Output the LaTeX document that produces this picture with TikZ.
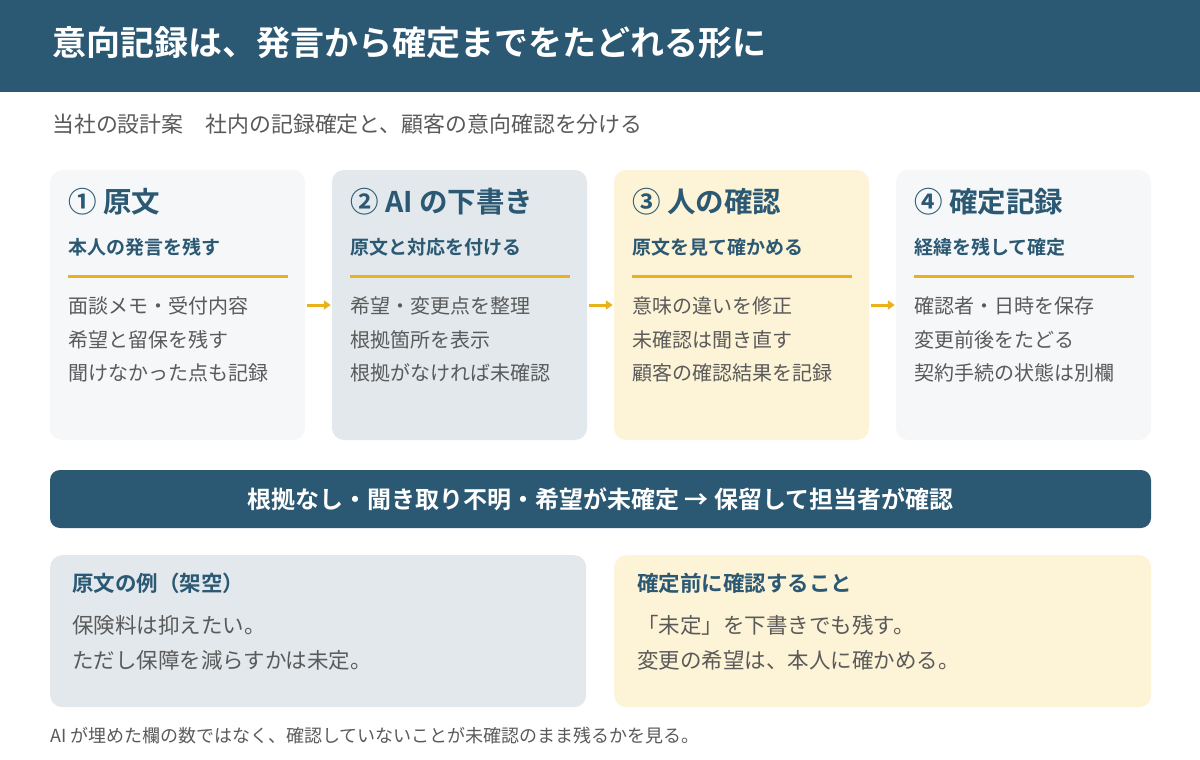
\documentclass[tikz,border=0pt]{standalone}
\usepackage{fontspec}
\setmainfont{Noto Sans CJK JP}[BoldFont={Noto Sans CJK JP Bold}]
\usetikzlibrary{arrows.meta}
\definecolor{teal}{HTML}{2B5872}
\definecolor{amber}{HTML}{E9B21A}
\definecolor{txt}{HTML}{5A5A5A}
\definecolor{boxlight}{HTML}{F5F7F9}
\definecolor{boxgray}{HTML}{E2E8EC}
\definecolor{boxyel}{HTML}{FDF3D6}
\tikzset{
  panel/.style={rounded corners=12pt, inner sep=0pt, draw=none},
  stepbox/.style={panel, minimum width=255pt, minimum height=270pt},
  stitle/.style={anchor=base west, inner sep=0pt, text=teal, font=\fontsize{28.5}{34}\selectfont\bfseries},
  ssub/.style={anchor=base west, inner sep=0pt, text=teal, font=\fontsize{19}{24}\selectfont\bfseries},
  sbody/.style={anchor=base west, inner sep=0pt, text=txt, font=\fontsize{20}{24}\selectfont},
  rule/.style={draw=amber, line width=3pt},
  arr/.style={draw=amber, line width=3pt, -{Triangle[length=7pt,width=9pt]}, shorten <=2pt, shorten >=1pt},
  btitle/.style={anchor=base west, inner sep=0pt, text=teal, font=\fontsize{21.5}{26}\selectfont\bfseries},
  bbody/.style={anchor=base west, inner sep=0pt, text=txt, font=\fontsize{21.5}{26}\selectfont},
}
\begin{document}
\begin{tikzpicture}[x=1pt,y=-1pt]
\useasboundingbox (0,0) rectangle (1200,760);
% header
\node[fill=teal, minimum width=1200pt, minimum height=92pt, inner sep=0pt, anchor=north west] (hdr) at (0,0) {};
\node[anchor=base west, inner sep=0pt, text=white, font=\fontsize{34}{40}\selectfont\bfseries] (title) at (52,56) {意向記録は、発言から確定までをたどれる形に};
\node[anchor=base west, inner sep=0pt, text=txt, font=\fontsize{21.9}{26}\selectfont] (sub) at (52,132) {当社の設計案　社内の記録確定と、顧客の意向確認を分ける};
% step boxes
\node[stepbox, fill=boxlight] (b1) at (177.5,305) {};
\node[stepbox, fill=boxgray] (b2) at (459.5,305) {};
\node[stepbox, fill=boxyel] (b3) at (741.5,305) {};
\node[stepbox, fill=boxlight] (b4) at (1023.5,305) {};
% box 1
\node[stitle] (t1) at (68,212) {① 原文};
\node[ssub] (s1) at (68,254) {本人の発言を残す};
\draw[rule] (68,276) -- (288,276);
\node[sbody] (l11) at (68,313) {面談メモ・受付内容};
\node[sbody] (l12) at (68,347) {希望と留保を残す};
\node[sbody] (l13) at (68,380) {聞けなかった点も記録};
% box 2
\node[stitle] (t2) at (350,212) {② AI の下書き};
\node[ssub] (s2) at (350,254) {原文と対応を付ける};
\draw[rule] (350,276) -- (570,276);
\node[sbody] (l21) at (350,313) {希望・変更点を整理};
\node[sbody] (l22) at (350,347) {根拠箇所を表示};
\node[sbody] (l23) at (350,380) {根拠がなければ未確認};
% box 3
\node[stitle] (t3) at (632,212) {③ 人の確認};
\node[ssub] (s3) at (632,254) {原文を見て確かめる};
\draw[rule] (632,276) -- (852,276);
\node[sbody] (l31) at (632,313) {意味の違いを修正};
\node[sbody] (l32) at (632,347) {未確認は聞き直す};
\node[sbody] (l33) at (632,380) {顧客の確認結果を記録};
% box 4
\node[stitle] (t4) at (914,212) {④ 確定記録};
\node[ssub] (s4) at (914,254) {経緯を残して確定};
\draw[rule] (914,276) -- (1134,276);
\node[sbody] (l41) at (914,313) {確認者・日時を保存};
\node[sbody] (l42) at (914,347) {変更前後をたどる};
\node[sbody] (l43) at (914,380) {契約手続の状態は別欄};
% arrows
\draw[arr] (b1.east) -- (b2.west);
\draw[arr] (b2.east) -- (b3.west);
\draw[arr] (b3.east) -- (b4.west);
% banner
\node[panel, rounded corners=10pt, fill=teal, minimum width=1101pt, minimum height=58pt, text=white, font=\fontsize{24}{28}\selectfont\bfseries] (ban) at (600.5,499) {根拠なし・聞き取り不明・希望が未確定 → 保留して担当者が確認};
% bottom boxes
\node[panel, fill=boxgray, minimum width=536pt, minimum height=152pt, anchor=north west] (ex) at (50,555) {};
\node[panel, fill=boxyel, minimum width=537pt, minimum height=152pt, anchor=north west] (chk) at (614,555) {};
\node[btitle] (ext) at (72,591) {原文の例（架空）};
\node[bbody] (ex1) at (72,633) {保険料は抑えたい。};
\node[bbody] (ex2) at (72,668) {ただし保障を減らすかは未定。};
\node[btitle] (chkt) at (637,591) {確定前に確認すること};
\node[bbody] (ck1) at (637,633) {「未定」を下書きでも残す。};
\node[bbody] (ck2) at (637,668) {変更の希望は、本人に確かめる。};
% footer
\node[anchor=base west, inner sep=0pt, text=txt, font=\fontsize{18}{22}\selectfont] (foot) at (50,742) {AI が埋めた欄の数ではなく、確認していないことが未確認のまま残るかを見る。};
\end{tikzpicture}
\end{document}
